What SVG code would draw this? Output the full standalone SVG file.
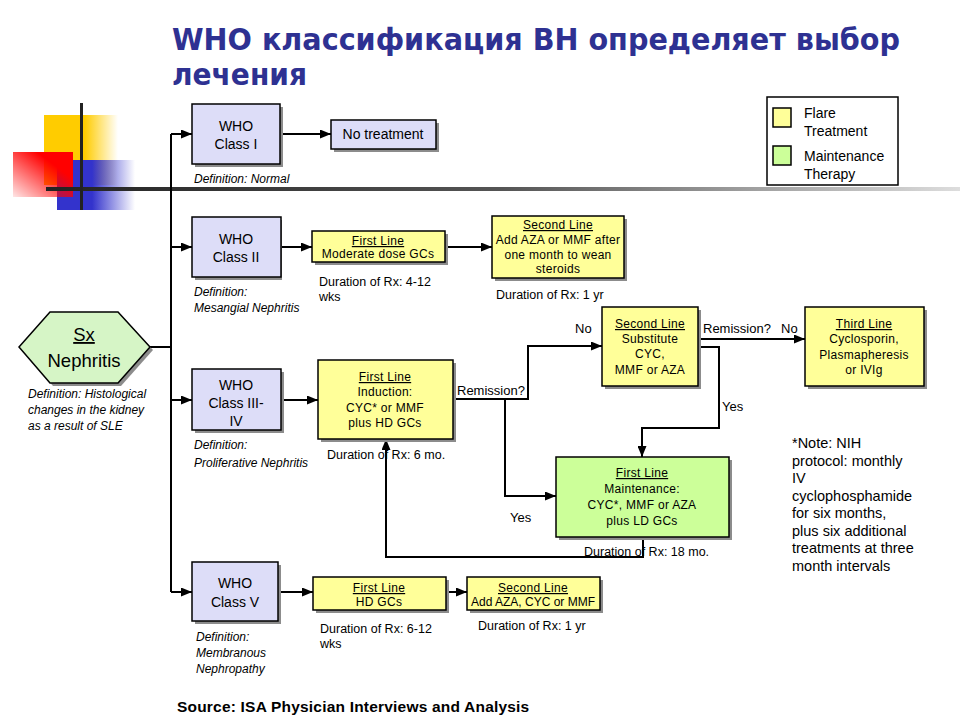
<svg xmlns="http://www.w3.org/2000/svg" width="960" height="720" viewBox="0 0 960 720">
<defs>
<marker id="ah" markerUnits="userSpaceOnUse" markerWidth="11" markerHeight="9" refX="11" refY="4.5" orient="auto"><path d="M0,0 L11,4.5 L0,9 z" fill="#000"/></marker>
<linearGradient id="gy" x1="0" y1="0" x2="1" y2="0"><stop offset="0.55" stop-color="#FFCC00"/><stop offset="1" stop-color="#FFCC00" stop-opacity="0"/></linearGradient>
<linearGradient id="gr" x1="1" y1="0" x2="0" y2="1"><stop offset="0.3" stop-color="#FF0000"/><stop offset="1" stop-color="#FF0000" stop-opacity="0.1"/></linearGradient>
<linearGradient id="gb" x1="0" y1="0" x2="1" y2="0"><stop offset="0.45" stop-color="#3333CC"/><stop offset="1" stop-color="#3333CC" stop-opacity="0"/></linearGradient>
<linearGradient id="gl" x1="0" y1="0" x2="1" y2="0"><stop offset="0" stop-color="#222"/><stop offset="0.5" stop-color="#555"/><stop offset="1" stop-color="#ddd"/></linearGradient>
</defs>
<style>
text{font-family:"Liberation Sans",Arial,sans-serif;fill:#000}
.c{text-anchor:middle}
.who{fill:#DDDDF8;stroke:#000;stroke-width:1.5}
.fl{fill:#FFFF99;stroke:#000;stroke-width:1.5}
.mt{fill:#CCFF99;stroke:#000;stroke-width:1.5}
.sh{fill:#8c8c8c}
.t14{font-size:14px}
.t12{font-size:12px;letter-spacing:0.3px}
.it{font-size:12px;font-style:italic}
.du{font-size:12.5px}
.lb{font-size:13px}
.u{text-decoration:underline}
.con path{fill:none;stroke:#000;stroke-width:2}
.ar{marker-end:url(#ah)}
</style>
<rect width="960" height="720" fill="#fff"/>
<g id="title">
<text x="172" y="50" font-family="'DejaVu Sans',sans-serif" font-weight="bold" font-size="30" style="fill:#2E3192;font-family:'DejaVu Sans',sans-serif" textLength="728" lengthAdjust="spacingAndGlyphs">WHO классификация ВН определяет выбор</text>
<text x="172" y="85" font-family="'DejaVu Sans',sans-serif" font-weight="bold" font-size="30" style="fill:#2E3192;font-family:'DejaVu Sans',sans-serif" textLength="135" lengthAdjust="spacingAndGlyphs">лечения</text>
</g>
<g id="decoration">
<rect x="44" y="115" width="74" height="70" fill="url(#gy)"/>
<rect x="57" y="160" width="78" height="50" fill="url(#gb)"/>
<rect x="13" y="152" width="60" height="45" fill="url(#gr)"/>
<rect x="46" y="187" width="914" height="4" fill="url(#gl)"/>
<rect x="80" y="103" width="3" height="107" fill="#222"/>
</g>
<g id="legend">
<rect x="767" y="97" width="131" height="88" fill="#fff" stroke="#000" stroke-width="1.5"/>
<rect x="773" y="108" width="18" height="19" class="fl"/>
<rect x="773" y="146" width="18" height="19" class="mt"/>
<text x="804" y="118" style="font-size:14px">Flare</text>
<text x="804" y="136" style="font-size:14px">Treatment</text>
<text x="804" y="161" style="font-size:14px">Maintenance</text>
<text x="804" y="179" style="font-size:14px">Therapy</text>
</g>
<g class="con" id="connectors">
<path d="M171,134 V592"/>
<path d="M150,347 H171"/>
<path class="ar" d="M171,134 H192"/>
<path class="ar" d="M280,134 H331"/>
<path class="ar" d="M171,247 H192"/>
<path class="ar" d="M281,247 H312"/>
<path class="ar" d="M445,247 H492"/>
<path class="ar" d="M171,400 H192"/>
<path class="ar" d="M281,400 H318"/>
<path class="ar" d="M453,399 H528 V346 H602"/>
<path class="ar" d="M505,399 V496 H556"/>
<path class="ar" d="M698,339 H805"/>
<path class="ar" d="M698,347 H719 V428 H642 V457"/>
<path class="ar" d="M643,537 V557 H386 V439"/>
<path class="ar" d="M171,592 H192"/>
<path class="ar" d="M278,592 H313"/>
<path class="ar" d="M446,592 H467"/>
</g>
<g id="labels">
<text x="457" y="395" class="lb">Remission?</text>
<text x="575" y="333" class="lb">No</text>
<text x="703" y="333" class="lb">Remission?</text>
<text x="781" y="333" class="lb">No</text>
<text x="722" y="411" class="lb">Yes</text>
<text x="510" y="522" class="lb">Yes</text>
</g>
<g id="sx">
<polygon points="22,350 53,315 121,315 153,350 121,386 53,386" class="sh"/>
<polygon points="19,347 50,312 118,312 150,347 118,383 50,383" fill="#D6F5C6" stroke="#000" stroke-width="1.5"/>
<text x="84" y="341" class="c u" style="font-size:18.5px">Sx</text>
<text x="84" y="367" class="c" style="font-size:18.5px">Nephritis</text>
<text x="28" y="398" class="it">Definition: Histological</text>
<text x="28" y="414" class="it">changes in the kidney</text>
<text x="28" y="430" class="it">as a result of SLE</text>
</g>
<g id="class1">
<rect x="195" y="107" width="88" height="60" class="sh"/>
<rect x="192" y="104" width="88" height="60" class="who"/>
<text x="236" y="131" class="c t14">WHO</text>
<text x="236" y="149" class="c t14">Class I</text>
<text x="194" y="183" class="it">Definition: Normal</text>
</g>
<g id="notreat">
<rect x="334" y="123" width="105" height="29" class="sh"/>
<rect x="331" y="120" width="105" height="29" class="who"/>
<text x="383" y="139" class="c t14">No treatment</text>
</g>
<g id="class2">
<rect x="195" y="220" width="87" height="60" class="sh"/>
<rect x="192" y="217" width="89" height="60" class="who"/>
<text x="236" y="244" class="c t14">WHO</text>
<text x="236" y="262" class="c t14">Class II</text>
<text x="194" y="296" class="it">Definition:</text>
<text x="194" y="312" class="it">Mesangial Nephritis</text>
</g>
<g id="c2first">
<rect x="315" y="234" width="133" height="31" class="sh"/>
<rect x="312" y="231" width="133" height="31" class="fl"/>
<text x="378" y="245" class="c t12 u">First Line</text>
<text x="378" y="258" class="c t12">Moderate dose GCs</text>
<text x="319" y="286" class="du">Duration of Rx: 4-12</text>
<text x="319" y="301" class="du">wks</text>
</g>
<g id="c2second">
<rect x="495" y="219" width="132" height="62" class="sh"/>
<rect x="492" y="216" width="132" height="62" class="fl"/>
<text x="558" y="229" class="c t12 u">Second Line</text>
<text x="558" y="244" class="c t12">Add AZA or MMF after</text>
<text x="558" y="259" class="c t12">one month to wean</text>
<text x="558" y="273" class="c t12">steroids</text>
<text x="496" y="299" class="du">Duration of Rx: 1 yr</text>
</g>
<g id="class34">
<rect x="195" y="372" width="89" height="61" class="sh"/>
<rect x="192" y="369" width="89" height="61" class="who"/>
<text x="236" y="390" class="c t14">WHO</text>
<text x="236" y="408" class="c t14">Class III-</text>
<text x="236" y="426" class="c t14">IV</text>
<text x="194" y="449" class="it">Definition:</text>
<text x="194" y="467" class="it">Proliferative Nephritis</text>
</g>
<g id="c34first">
<rect x="321" y="363" width="135" height="79" class="sh"/>
<rect x="318" y="360" width="135" height="79" class="fl"/>
<text x="385" y="381" class="c t12 u">First Line</text>
<text x="385" y="396" class="c t12">Induction:</text>
<text x="385" y="412" class="c t12">CYC* or MMF</text>
<text x="385" y="427" class="c t12">plus HD GCs</text>
<text x="327" y="459" class="du">Duration of Rx: 6 mo.</text>
</g>
<g id="c34second">
<rect x="605" y="310" width="96" height="79" class="sh"/>
<rect x="602" y="307" width="96" height="79" class="fl"/>
<text x="650" y="328" class="c t12 u">Second Line</text>
<text x="650" y="343" class="c t12">Substitute</text>
<text x="650" y="358" class="c t12">CYC,</text>
<text x="650" y="374" class="c t12">MMF or AZA</text>
</g>
<g id="c34third">
<rect x="808" y="310" width="119" height="79" class="sh"/>
<rect x="805" y="307" width="119" height="79" class="fl"/>
<text x="864" y="328" class="c t12 u">Third Line</text>
<text x="864" y="343" class="c t12">Cyclosporin,</text>
<text x="864" y="359" class="c t12">Plasmapheresis</text>
<text x="864" y="374" class="c t12">or IVIg</text>
</g>
<g id="c34maint">
<rect x="559" y="460" width="173" height="80" class="sh"/>
<rect x="556" y="457" width="173" height="80" class="mt"/>
<text x="642" y="477" class="c t12 u">First Line</text>
<text x="642" y="493" class="c t12">Maintenance:</text>
<text x="642" y="509" class="c t12">CYC*, MMF or AZA</text>
<text x="642" y="525" class="c t12">plus LD GCs</text>
<text x="584" y="556" class="du">Duration of Rx: 18 mo.</text>
</g>
<g id="class5">
<rect x="195" y="565" width="86" height="59" class="sh"/>
<rect x="192" y="562" width="86" height="59" class="who"/>
<text x="235" y="588" class="c t14">WHO</text>
<text x="235" y="607" class="c t14">Class V</text>
<text x="196" y="641" class="it">Definition:</text>
<text x="196" y="657" class="it">Membranous</text>
<text x="196" y="673" class="it">Nephropathy</text>
</g>
<g id="c5first">
<rect x="316" y="580" width="133" height="33" class="sh"/>
<rect x="313" y="577" width="133" height="33" class="fl"/>
<text x="379" y="592" class="c t12 u">First Line</text>
<text x="379" y="606" class="c t12">HD GCs</text>
<text x="320" y="633" class="du">Duration of Rx: 6-12</text>
<text x="320" y="648" class="du">wks</text>
</g>
<g id="c5second">
<rect x="470" y="580" width="133" height="33" class="sh"/>
<rect x="467" y="577" width="133" height="33" class="fl"/>
<text x="533" y="592" class="c t12 u">Second Line</text>
<text x="533" y="606" class="c" style="font-size:12px">Add AZA, CYC or MMF</text>
<text x="478" y="630" class="du">Duration of Rx: 1 yr</text>
</g>
<g id="note">
<text x="792" y="448" style="font-size:14.5px">*Note: NIH</text>
<text x="792" y="466" style="font-size:14.5px">protocol: monthly</text>
<text x="792" y="483" style="font-size:14.5px">IV</text>
<text x="792" y="501" style="font-size:14.5px">cyclophosphamide</text>
<text x="792" y="518" style="font-size:14.5px">for six months,</text>
<text x="792" y="536" style="font-size:14.5px">plus six additional</text>
<text x="792" y="553" style="font-size:14.5px">treatments at three</text>
<text x="792" y="571" style="font-size:14.5px">month intervals</text>
</g>
<g id="source">
<text x="177" y="712" style="font-size:15.5px;font-weight:bold;letter-spacing:0.2px">Source: ISA Physician Interviews and Analysis</text>
</g>
</svg>
